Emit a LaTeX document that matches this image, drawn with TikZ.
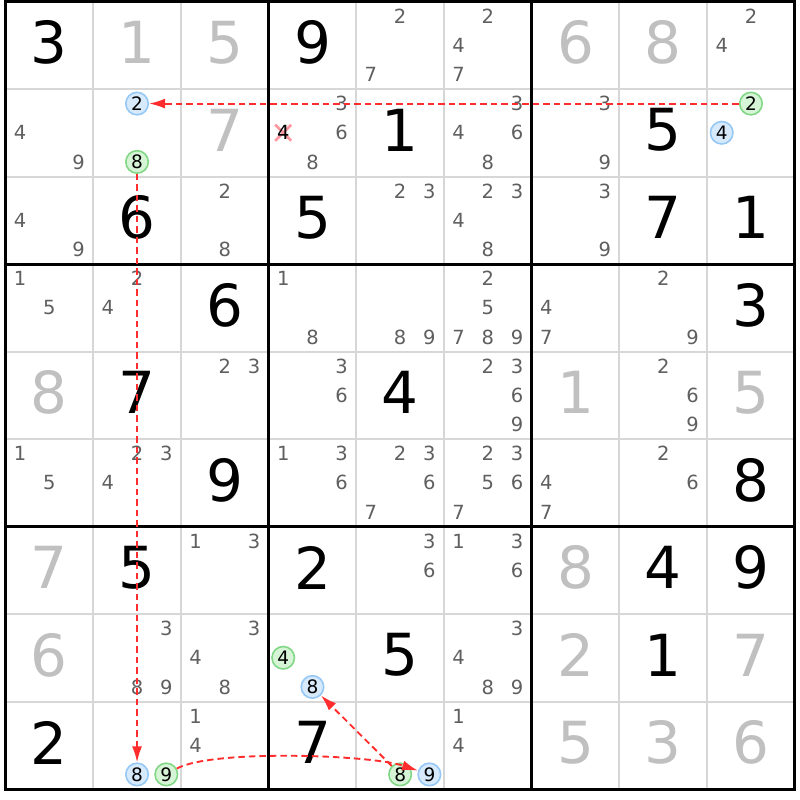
\documentclass[tikz,border=0pt]{standalone}
\usepackage{fontspec}
\setmainfont{DejaVu Sans}
\usetikzlibrary{arrows.meta}
\definecolor{candgray}{RGB}{95,95,95}
\definecolor{solvedgray}{RGB}{192,192,192}
\definecolor{gridgray}{RGB}{215,215,215}
\definecolor{linkred}{RGB}{255,45,45}
\definecolor{bluefill}{RGB}{214,234,252}
\definecolor{blueline}{RGB}{150,200,245}
\definecolor{greenfill}{RGB}{214,244,214}
\definecolor{greenline}{RGB}{130,215,135}
\definecolor{crosspink}{RGB}{255,150,160}
\tikzset{
  given/.style={font=\fontsize{58}{60}\selectfont, text=black, inner sep=0pt},
  solved/.style={given, text=solvedgray},
  cand/.style={font=\fontsize{19.5}{20}\selectfont, text=candgray, inner sep=0pt},
  elim/.style={cand, text=black},
  hlbase/.style={circle, line width=1.6pt, minimum size=22.5pt, inner sep=0pt, font=\fontsize{18.5}{19}\selectfont, text=black},
  hlblue/.style={hlbase, draw=blueline, fill=bluefill},
  hlgreen/.style={hlbase, draw=greenline, fill=greenfill},
  thingrid/.style={draw=gridgray, line width=2pt},
  thickgrid/.style={draw=black, line width=3pt},
  link/.style={draw=linkred, dash pattern=on 6.5pt off 4pt, line width=1.9pt, -{Latex[length=16pt,width=10pt]}},
}
\newcommand\SGiven[4]{\node[#4] (g#1#2) at ({5.5+87.7*(#2-0.5)},{1.5+87.5*(#1-0.5)-2.5}) {#3};}
\newcommand\SCands[3]{\foreach \k in {#3}{\node[cand] (c#1#2\k) at ({5.5+87.7*(#2-1)+29.233*(mod(\k-1,3)+0.5)},{1.5+87.5*(#1-1)+29.167*(int((\k-1)/3)+0.5)}) {\k};}}
\newcommand\SHl[4]{\node[#1] (h#2#3-#4) at ({5.5+87.7*(#3-1)+29.233*(mod(#4-1,3)+0.5)},{1.5+87.5*(#2-1)+29.167*(int((#4-1)/3)+0.5)}) {#4};}
\begin{document}
\begin{tikzpicture}[x=1pt,y=-1pt]
\useasboundingbox (0,0) rectangle (800,800);
\fill[white] (0,0) rectangle (800,800);
% grid
\foreach \i in {1,2,4,5,7,8}{
  \draw[thingrid] ({5.5+87.7*\i},1.5) -- ({5.5+87.7*\i},789);
  \draw[thingrid] (5.5,{1.5+87.5*\i}) -- (794.8,{1.5+87.5*\i});
}
\foreach \i in {0,3,6,9}{
  \draw[thickgrid] ({5.5+87.7*\i},0) -- ({5.5+87.7*\i},790.5);
  \draw[thickgrid] (4,{1.5+87.5*\i}) -- (796.3,{1.5+87.5*\i});
}
% row 1
\SGiven{1}{1}{3}{given}\SGiven{1}{2}{1}{solved}\SGiven{1}{3}{5}{solved}\SGiven{1}{4}{9}{given}
\SCands{1}{5}{2,7}\SCands{1}{6}{2,4,7}
\SGiven{1}{7}{6}{solved}\SGiven{1}{8}{8}{solved}\SCands{1}{9}{2,4}
% row 2
\SCands{2}{1}{4,9}\SHl{hlblue}{2}{2}{2}\SHl{hlgreen}{2}{2}{8}\SGiven{2}{3}{7}{solved}
\SCands{2}{4}{3,6,8}
\draw[crosspink, line width=2.6pt] ({5.5+87.7*3+14.6-8},{1.5+87.5+43.75-8}) -- ({5.5+87.7*3+14.6+8},{1.5+87.5+43.75+8});
\draw[crosspink, line width=2.6pt] ({5.5+87.7*3+14.6-8},{1.5+87.5+43.75+8}) -- ({5.5+87.7*3+14.6+8},{1.5+87.5+43.75-8});
\node[elim] (x24-4) at ({5.5+87.7*3+14.6},{1.5+87.5+43.75}) {4};
\SGiven{2}{5}{1}{given}\SCands{2}{6}{3,4,6,8}\SCands{2}{7}{3,9}\SGiven{2}{8}{5}{given}
\SHl{hlgreen}{2}{9}{2}\SHl{hlblue}{2}{9}{4}
% row 3
\SCands{3}{1}{4,9}\SGiven{3}{2}{6}{given}\SCands{3}{3}{2,8}\SGiven{3}{4}{5}{given}
\SCands{3}{5}{2,3}\SCands{3}{6}{2,3,4,8}\SCands{3}{7}{3,9}\SGiven{3}{8}{7}{given}\SGiven{3}{9}{1}{given}
% row 4
\SCands{4}{1}{1,5}\SCands{4}{2}{2,4}\SGiven{4}{3}{6}{given}\SCands{4}{4}{1,8}\SCands{4}{5}{8,9}
\SCands{4}{6}{2,5,7,8,9}\SCands{4}{7}{4,7}\SCands{4}{8}{2,9}\SGiven{4}{9}{3}{given}
% row 5
\SGiven{5}{1}{8}{solved}\SGiven{5}{2}{7}{given}\SCands{5}{3}{2,3}\SCands{5}{4}{3,6}\SGiven{5}{5}{4}{given}
\SCands{5}{6}{2,3,6,9}\SGiven{5}{7}{1}{solved}\SCands{5}{8}{2,6,9}\SGiven{5}{9}{5}{solved}
% row 6
\SCands{6}{1}{1,5}\SCands{6}{2}{2,3,4}\SGiven{6}{3}{9}{given}\SCands{6}{4}{1,3,6}\SCands{6}{5}{2,3,6,7}
\SCands{6}{6}{2,3,5,6,7}\SCands{6}{7}{4,7}\SCands{6}{8}{2,6}\SGiven{6}{9}{8}{given}
% row 7
\SGiven{7}{1}{7}{solved}\SGiven{7}{2}{5}{given}\SCands{7}{3}{1,3}\SGiven{7}{4}{2}{given}\SCands{7}{5}{3,6}
\SCands{7}{6}{1,3,6}\SGiven{7}{7}{8}{solved}\SGiven{7}{8}{4}{given}\SGiven{7}{9}{9}{given}
% row 8
\SGiven{8}{1}{6}{solved}\SCands{8}{2}{3,8,9}\SCands{8}{3}{3,4,8}\SHl{hlgreen}{8}{4}{4}\SHl{hlblue}{8}{4}{8}
\SGiven{8}{5}{5}{given}\SCands{8}{6}{3,4,8,9}\SGiven{8}{7}{2}{solved}\SGiven{8}{8}{1}{given}\SGiven{8}{9}{7}{solved}
% row 9
\SGiven{9}{1}{2}{given}\SHl{hlblue}{9}{2}{8}\SHl{hlgreen}{9}{2}{9}\SCands{9}{3}{1,4}\SGiven{9}{4}{7}{given}
\SHl{hlgreen}{9}{5}{8}\SHl{hlblue}{9}{5}{9}\SCands{9}{6}{1,4}
\SGiven{9}{7}{5}{solved}\SGiven{9}{8}{3}{solved}\SGiven{9}{9}{6}{solved}
% links
\draw[link] (h29-2) -- (h22-2);
\draw[link] (h22-8) -- (h92-8);
\draw[link] (h92-9) .. controls +(45,-25) and +(-60,-20) .. (h95-9);
\draw[link] (h95-8) -- (h84-8);
\end{tikzpicture}
\end{document}
